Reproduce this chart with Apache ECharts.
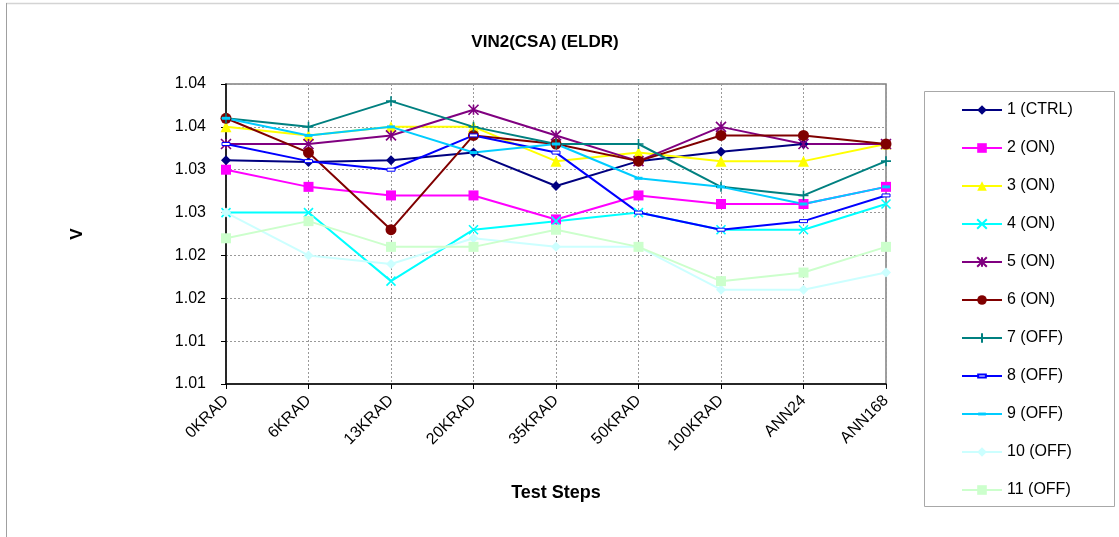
<!DOCTYPE html>
<html>
<head>
<meta charset="utf-8">
<script src="https://cdn.jsdelivr.net/npm/echarts@6/dist/echarts.min.js"></script>
<style>
  html, body { margin: 0; padding: 0; background: #fff; }
  #chart { width: 1119px; height: 537px; }
</style>
</head>
<body>
<div id="chart"></div>
<script>
var steps = ['0KRAD', '6KRAD', '13KRAD', '20KRAD', '35KRAD', '50KRAD', '100KRAD', 'ANN24', 'ANN168'];
var yTickLabels = ['1.01', '1.01', '1.02', '1.02', '1.03', '1.03', '1.04', '1.04'];

var s1 = [1.0311, 1.0309, 1.0311, 1.0320, 1.0281, 1.0310, 1.0321, 1.0330, 1.0330];
var s2 = [1.0300, 1.0280, 1.0270, 1.0270, 1.0242, 1.0270, 1.0260, 1.0260, 1.0280];
var s3 = [1.0350, 1.0340, 1.0350, 1.0350, 1.0310, 1.0320, 1.0310, 1.0310, 1.0330];
var s4 = [1.0250, 1.0250, 1.0170, 1.0230, 1.0240, 1.0250, 1.0230, 1.0230, 1.0260];
var s5 = [1.0330, 1.0330, 1.0340, 1.0370, 1.0340, 1.0310, 1.0350, 1.0330, 1.0330];
var s6 = [1.0360, 1.0320, 1.0230, 1.0340, 1.0330, 1.0310, 1.0340, 1.0340, 1.0330];
var s7 = [1.0360, 1.0350, 1.0380, 1.0350, 1.0330, 1.0330, 1.0280, 1.0270, 1.0310];
var s8 = [1.0330, 1.0310, 1.0300, 1.0340, 1.0320, 1.0250, 1.0230, 1.0240, 1.0270];
var s9 = [1.0360, 1.0340, 1.0350, 1.0320, 1.0330, 1.0290, 1.0280, 1.0260, 1.0280];
var s10 = [1.0250, 1.0200, 1.0190, 1.0220, 1.0210, 1.0210, 1.0160, 1.0160, 1.0180];
var s11 = [1.0220, 1.0240, 1.0210, 1.0210, 1.0230, 1.0210, 1.0170, 1.0180, 1.0210];

var xMark = 'path://M0,0L10,10M10,0L0,10';
var starMark = 'path://M0,0L10,10M10,0L0,10M5,0L5,10';
var plusMark = 'path://M5,0L5,10M0,5L10,5';
// flat dash inside an invisible square box (series 8 and 9)
var dashMark = 'path://M0,0M10,10M1,3.5L9,3.5L9,6.5L1,6.5Z';

function mk(name, data, color, symbol, size, stroke) {
    return {
        name: name,
        type: 'line',
        data: data,
        symbol: symbol,
        symbolSize: size,
        showAllSymbol: true,
        lineStyle: { color: color, width: 2 },
        itemStyle: stroke ? { color: 'rgba(0,0,0,0)', borderColor: color, borderWidth: 1.6 }
                          : { color: color, borderColor: color, borderWidth: 0 }
    };
}

var series = [
    mk('1 (CTRL)', s1, '#000080', 'diamond', 10),
    mk('2 (ON)', s2, '#FF00FF', 'rect', 10),
    mk('3 (ON)', s3, '#FFFF00', 'triangle', 11),
    mk('4 (ON)', s4, '#00FFFF', xMark, 9, true),
    mk('5 (ON)', s5, '#800080', starMark, 10, true),
    mk('6 (ON)', s6, '#800000', 'circle', 11),
    mk('7 (OFF)', s7, '#008080', plusMark, 10, true),
    mk('8 (OFF)', s8, '#0000FF', dashMark, 10),
    mk('9 (OFF)', s9, '#00CCFF', dashMark, 10),
    mk('10 (OFF)', s10, '#CCFFFF', 'diamond', 10),
    mk('11 (OFF)', s11, '#CCFFCC', 'rect', 10)
];
series[7].itemStyle = { color: '#ffffff', borderColor: '#0000FF', borderWidth: 1 };

var font = 'Liberation Sans, Arial, sans-serif';

var option = {
    animation: false,
    backgroundColor: '#ffffff',
    textStyle: { fontFamily: font },
    title: {
        text: 'VIN2(CSA) (ELDR)',
        left: 540,
        textAlign: 'center',
        top: 29,
        textStyle: { fontFamily: font, fontSize: 17, fontWeight: 'bold', color: '#000' }
    },
    legend: {
        orient: 'vertical',
        left: 961,
        top: 102,
        itemWidth: 40,
        itemHeight: 12,
        itemGap: 22,
        padding: 0,
        textStyle: { fontFamily: font, fontSize: 16, color: '#000', lineHeight: 16 },
        data: series.map(function (s) { return s.name; })
    },
    grid: {
        left: 226, right: 233, top: 84, bottom: 153,
        show: true, borderColor: '#808080', borderWidth: 1.5
    },
    xAxis: {
        type: 'category',
        data: steps,
        boundaryGap: false,
        name: 'Test Steps',
        nameLocation: 'middle',
        nameGap: 100,
        nameTextStyle: { fontFamily: font, fontSize: 18, fontWeight: 'bold', color: '#000' },
        axisLine: { lineStyle: { color: '#000', width: 1.5 } },
        axisTick: { alignWithLabel: true, length: 5, lineStyle: { color: '#000' } },
        axisLabel: { rotate: 45, margin: 14, fontFamily: font, fontSize: 16, color: '#000' },
        splitLine: { show: true, lineStyle: { color: '#999', type: [2, 2], width: 1 } }
    },
    yAxis: {
        type: 'value',
        min: 1.005,
        max: 1.04,
        interval: 0.005,
        name: 'V',
        nameLocation: 'middle',
        nameRotate: 90,
        nameGap: 140,
        nameTextStyle: { fontFamily: font, fontSize: 17, fontWeight: 'bold', color: '#000' },
        axisLine: { show: true, lineStyle: { color: '#000', width: 1.5 } },
        axisTick: { show: true, length: 5, lineStyle: { color: '#000' } },
        axisLabel: {
            margin: 20, fontFamily: font, fontSize: 16, color: '#000',
            formatter: function (v) {
                return yTickLabels[Math.round((v - 1.005) / 0.005)];
            }
        },
        splitLine: { show: true, lineStyle: { color: '#999', type: [2, 2], width: 1 } }
    },
    graphic: [
        { type: 'line', shape: { x1: 6, y1: 3.5, x2: 1119, y2: 3.5 }, style: { stroke: '#d4d4d4', lineWidth: 1.5 } },
        { type: 'line', shape: { x1: 6.5, y1: 3, x2: 6.5, y2: 537 }, style: { stroke: '#a0a0a0', lineWidth: 1 } },
        { type: 'rect', shape: { x: 924.5, y: 91.5, width: 190, height: 415 }, style: { fill: 'none', stroke: '#a8a8a8', lineWidth: 1 } }
    ],
    series: series
};

var myChart = echarts.init(document.getElementById('chart'));
myChart.setOption(option);
</script>
</body>
</html>
